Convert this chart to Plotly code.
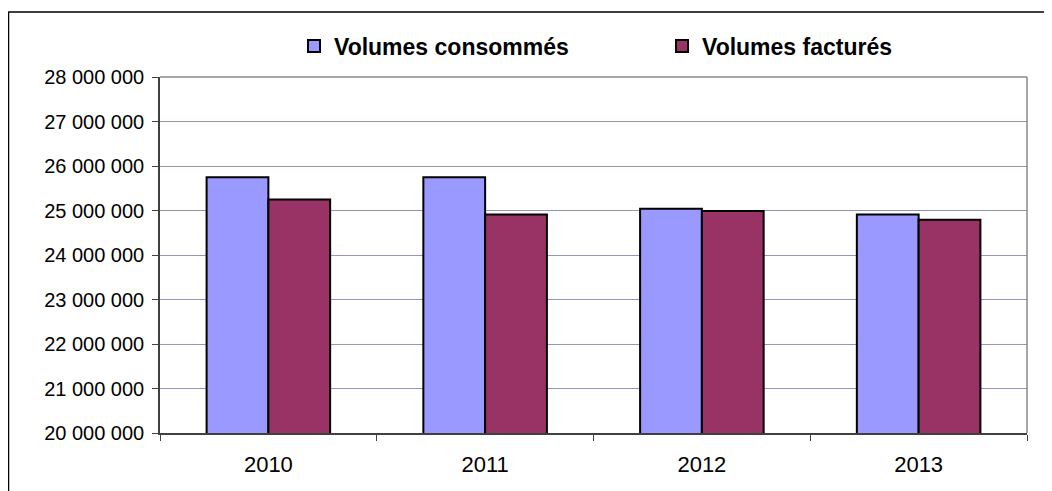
import plotly.graph_objects as go

years = ["2010", "2011", "2012", "2013"]
consommes = [25750000, 25750000, 25040000, 24910000]
factures = [25250000, 24910000, 24990000, 24790000]
series_names = ["Volumes consommés", "Volumes facturés"]
y_ticks = [20000000, 21000000, 22000000, 23000000, 24000000, 25000000, 26000000, 27000000, 28000000]

W, H = 1052, 491
OFF = 8  # page offset of the figure
L, R, T, B = 152, 33, 69, 66
pw = W - L - R
ph = H - T - B


def px_x(p):
    return (p - OFF - L) / pw


def px_y(p):
    return (H - B - (p - OFF)) / ph


fig = go.Figure()
fig.add_trace(go.Bar(x=years, y=consommes, name=series_names[0],
                     marker=dict(color="#9999FF", line=dict(color="#000000", width=2))))
fig.add_trace(go.Bar(x=years, y=factures, name=series_names[1],
                     marker=dict(color="#993366", line=dict(color="#000000", width=2))))

fig.update_layout(
    width=W, height=H,
    margin=dict(l=L, r=R, t=T, b=B, pad=0),
    paper_bgcolor="white", plot_bgcolor="white",
    barmode="group", bargap=0.43, bargroupgap=0,
    separators=",\u00a0",
    font=dict(family="Liberation Sans, Arial, sans-serif", color="#000000"),
    showlegend=True,
    legend=dict(orientation="h", x=px_x(294), xanchor="left", y=px_y(46), yanchor="middle",
                font=dict(size=23, family="Liberation Sans, Arial, sans-serif",
                          color="#000000", weight="bold"),
                entrywidth=323, entrywidthmode="pixels", bgcolor="rgba(0,0,0,0)",
                itemclick=False),
    xaxis=dict(showline=True, linecolor="#404040", linewidth=1.5,
               ticks="outside", tickson="boundaries", ticklen=6, tickcolor="#404040",
               tickfont=dict(size=22), showgrid=False, ticklabelstandoff=11),
    yaxis=dict(range=[y_ticks[0], y_ticks[-1]], tickvals=y_ticks, tickformat=",d",
               showline=True, linecolor="#404040", linewidth=1.5,
               ticks="outside", ticklen=6, tickcolor="#404040",
               tickfont=dict(size=20), showgrid=True, gridcolor="#9494BC", gridwidth=1,
               zeroline=False, ticklabelstandoff=4),
    shapes=[
        dict(type="line", xref="paper", yref="paper", x0=0, x1=1, y0=1, y1=1,
             line=dict(color="#888888", width=1.5)),
        dict(type="line", xref="paper", yref="paper", x0=1, x1=1, y0=0, y1=1,
             line=dict(color="#888888", width=1.5)),
        dict(type="rect", xref="paper", yref="paper", x0=px_x(8.5), x1=px_x(1100),
             y0=px_y(540), y1=px_y(12), line=dict(color="#000000", width=1.5),
             fillcolor="rgba(0,0,0,0)", layer="above"),
    ],
)

fig.write_html("out.html")
